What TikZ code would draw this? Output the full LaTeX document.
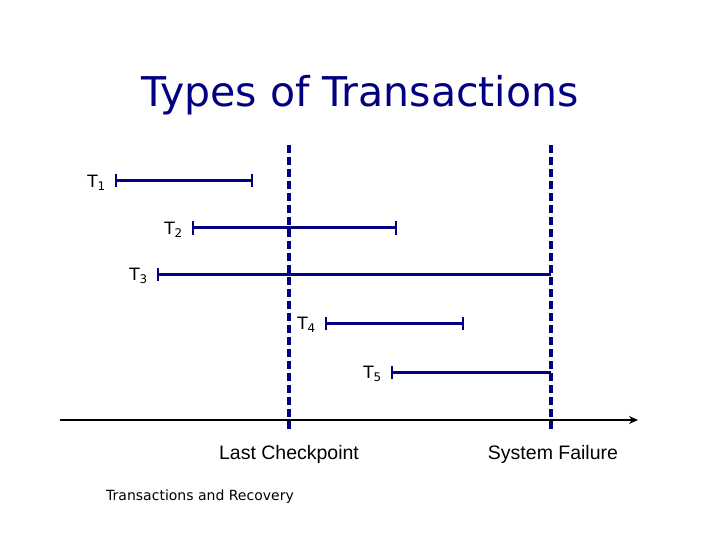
\documentclass[tikz,border=0pt]{standalone}
\usepackage{fontspec}
\setmainfont{DejaVu Sans}
\newfontfamily\arialf{Liberation Sans}
\usetikzlibrary{arrows.meta}
\definecolor{navy}{HTML}{000080}
\begin{document}
\begin{tikzpicture}[x=1pt,y=-1pt,
  tx/.style={draw=navy,line width=3pt,{Bar[width=13pt,line width=2.4pt]}-{Bar[width=13pt,line width=2.4pt]}},
  tlab/.style={anchor=east,inner sep=1pt,font=\fontsize{17}{20}\selectfont},
  dashline/.style={draw=navy,line width=3.4pt,dash pattern=on 8pt off 4pt}]
\useasboundingbox (0,0) rectangle (720,540);
\node[text=navy,font=\fontsize{41}{48}\selectfont] (title) at (360,95) {Types of Transactions};
\coordinate (c1) at (289,145); \coordinate (c2) at (289,432);
\coordinate (f1) at (551,145); \coordinate (f2) at (551,432);
\draw[dashline] (c1) -- (c2);
\draw[dashline] (f1) -- (f2);
\node[tlab] (l1) at (107,183) {T\textsubscript{1}};
\coordinate (a1) at (115,181); \coordinate (b1) at (253,181);
\draw[tx] (a1) -- (b1);
\node[tlab] (l2) at (184,230) {T\textsubscript{2}};
\coordinate (a2) at (192,228); \coordinate (b2) at (397,228);
\draw[tx] (a2) -- (b2);
\node[tlab] (l3) at (149,276) {T\textsubscript{3}};
\coordinate (a3) at (157,274); \coordinate (b3) at (551,274);
\draw[draw=navy,line width=3pt,{Bar[width=13pt,line width=2.4pt]}-] (a3) -- (b3);
\node[tlab] (l4) at (317,325) {T\textsubscript{4}};
\coordinate (a4) at (325,323); \coordinate (b4) at (464,323);
\draw[tx] (a4) -- (b4);
\node[tlab] (l5) at (383,374) {T\textsubscript{5}};
\coordinate (a5) at (391,372); \coordinate (b5) at (551,372);
\draw[draw=navy,line width=3pt,{Bar[width=13pt,line width=2.4pt]}-] (a5) -- (b5);
\coordinate (t1) at (60,420); \coordinate (t2) at (638,420);
\draw[line width=2pt,-{Stealth[length=9pt,width=8pt]}] (t1) -- (t2);
\node[font=\arialf\fontsize{19.5}{23}\selectfont] (lc) at (289,454) {Last Checkpoint};
\node[font=\arialf\fontsize{19.5}{23}\selectfont] (sf) at (553,454) {System Failure};
\node[font=\fontsize{14}{16}\selectfont] (foot) at (200,497) {Transactions and Recovery};
\end{tikzpicture}
\end{document}
